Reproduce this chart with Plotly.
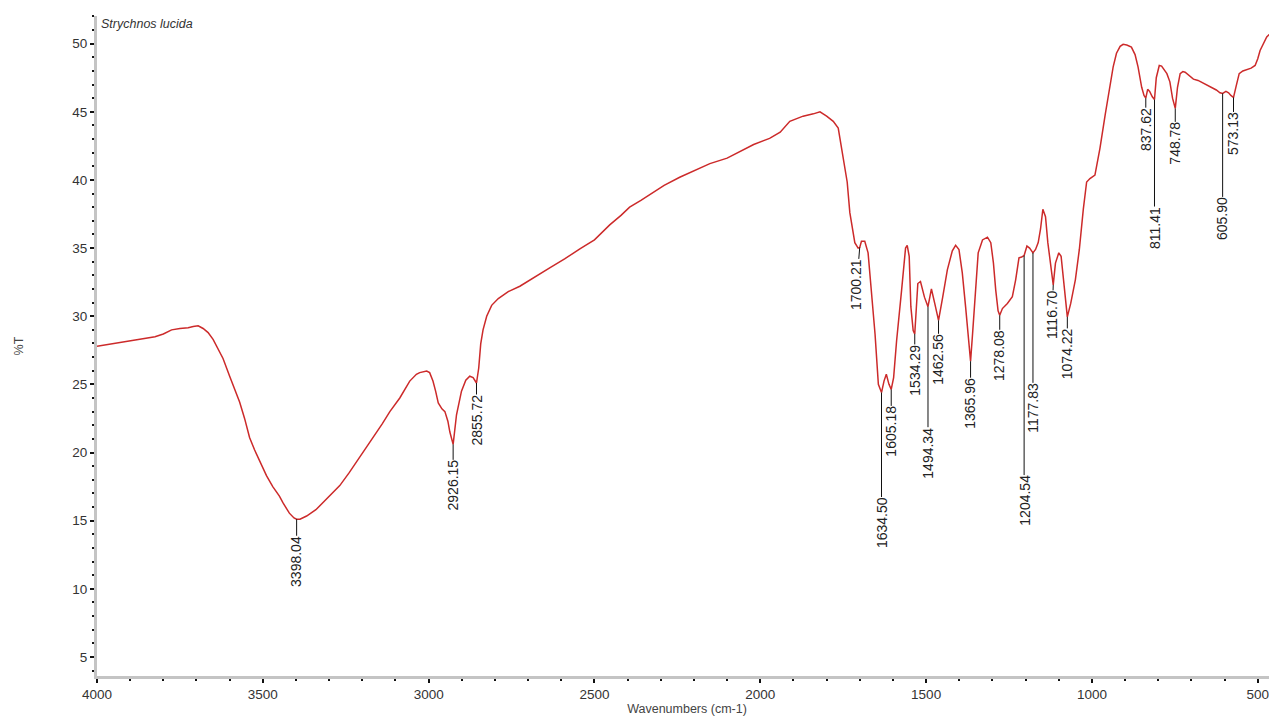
import numpy as np
import plotly.graph_objects as go

# ---- spectrum data ----
wavenumber = [
    4000, 3975, 3950, 3925, 3900, 3875, 3850, 3825, 3800, 3775, 3750, 3725, 3710, 3695,
    3680, 3665, 3650, 3635, 3620, 3600, 3585, 3570, 3555, 3540, 3525, 3510, 3489, 3470,
    3450, 3439, 3420, 3406, 3398.04, 3388, 3368, 3340, 3318, 3290, 3268, 3240, 3218, 3190,
    3168, 3140, 3117, 3087, 3057, 3037, 3027, 3015, 3006, 2997, 2987, 2979, 2971, 2960,
    2951, 2942, 2936, 2926.15, 2916, 2901, 2888, 2876, 2866, 2855.72, 2849, 2843, 2836,
    2825, 2810, 2790, 2760, 2725, 2680, 2635, 2590, 2544, 2500, 2454, 2420, 2394, 2360,
    2333, 2290, 2243, 2200, 2152, 2100, 2062, 2020, 1972, 1940, 1911, 1871, 1840, 1820,
    1800, 1780, 1765, 1760, 1755, 1745, 1738, 1730, 1721, 1715, 1705, 1700.21, 1695, 1685,
    1675, 1665, 1654, 1644, 1634.50, 1627, 1620, 1612, 1605.18, 1598, 1589, 1574, 1562,
    1557, 1551, 1546, 1539, 1534.29, 1530, 1525, 1517, 1505, 1494.34, 1484, 1474, 1462.56,
    1450, 1436, 1421, 1411, 1401, 1391, 1381, 1372, 1365.96, 1360, 1352, 1343, 1330, 1315,
    1305, 1297, 1290, 1283, 1278.08, 1270, 1255, 1240, 1230, 1220, 1212, 1204.54, 1196,
    1188, 1177.83, 1170, 1162, 1155, 1148, 1140, 1133, 1124, 1116.70, 1110, 1100, 1093,
    1085, 1074.22, 1064, 1050, 1038, 1031, 1026, 1016, 1006, 991, 976, 960, 946, 936, 926,
    915, 906, 895, 881, 870, 861, 850, 843, 837.62, 832, 826, 818, 811.41, 806, 797, 790,
    783, 774, 765, 757, 748.78, 742, 734, 726, 719, 705, 694, 680, 665, 654, 640, 625, 614,
    605.90, 596, 588, 581, 573.13, 565, 556, 545, 533, 520, 508, 500, 493, 483, 473, 460, 443,
]
transmittance = [
    27.8, 27.9, 28.0, 28.1, 28.2, 28.3, 28.35, 28.5, 28.7, 29.0, 29.1, 29.15, 29.25, 29.3,
    29.1, 28.8, 28.3, 27.6, 26.9, 25.6, 24.7, 23.7, 22.5, 21.1, 20.2, 19.4, 18.3, 17.5,
    16.8, 16.3, 15.55, 15.2, 15.1, 15.1, 15.34, 15.8, 16.33, 17.0, 17.57, 18.5, 19.3, 20.3,
    21.04, 22.1, 23.0, 24.0, 25.24, 25.74, 25.86, 25.95, 25.98, 25.86, 25.24, 24.5, 23.64, 23.2,
    23.0, 22.3, 21.5, 20.6, 22.77, 24.5, 25.3, 25.6, 25.5, 25.1, 26.2, 27.97, 29.0,
    30.0, 30.8, 31.3, 31.8, 32.2, 32.9, 33.55, 34.2, 34.95, 35.6, 36.7, 37.4, 38.0, 38.5,
    38.9, 39.6, 40.2, 40.7, 41.2, 41.6, 42.1, 42.6, 43.05, 43.5, 44.3, 44.68, 44.85, 45.0,
    44.68, 44.3, 43.8, 43.1, 42.1, 40.84, 39.85, 37.6, 36.1, 35.4, 35.0, 35.05, 35.5, 35.5,
    34.65, 31.9, 28.7, 25.0, 24.4, 25.24, 25.74, 25.0, 24.63, 25.5, 28.2, 31.9, 35.0,
    35.2, 34.4, 30.7, 28.95, 28.7, 30.7, 32.4, 32.55, 31.4, 30.7, 32.0, 30.94, 29.7,
    31.4, 33.4, 34.8, 35.2, 34.9, 33.2, 30.7, 28.2, 26.7, 28.7, 31.9, 34.65, 35.6, 35.8,
    35.4, 33.9, 31.9, 30.4, 30.07, 30.56, 30.94, 31.43, 32.67, 34.28, 34.35, 34.45, 35.15,
    35.0, 34.65, 34.9, 35.4, 36.4, 37.85, 37.3, 35.4, 33.6, 32.3, 33.9, 34.65, 34.4,
    32.4, 29.95, 30.94, 32.67, 34.9, 36.9, 37.86, 39.85, 40.1, 40.35, 42.3, 44.8, 46.8, 48.3, 49.3,
    49.8, 49.95, 49.9, 49.75, 49.2, 48.3, 46.8, 46.2, 46.0, 46.65, 46.5, 46.1, 45.9, 47.5, 48.4, 48.35,
    48.1, 47.8, 47.2, 46.0, 45.25, 46.8, 47.8, 47.95, 47.9, 47.6, 47.4, 47.3, 47.1, 47.0, 46.8, 46.6, 46.4,
    46.35, 46.5, 46.4, 46.2, 46.05, 46.9, 47.8, 48.0, 48.1, 48.2, 48.4, 48.9, 49.5, 50.0, 50.5, 50.8, 51.04,
]

# peak positions that are labelled on the chart
peak_wavenumbers = [
    3398.04, 2926.15, 2855.72, 1700.21, 1634.50, 1605.18, 1534.29, 1494.34, 1462.56,
    1365.96, 1278.08, 1204.54, 1177.83, 1116.70, 1074.22, 837.62, 811.41, 748.78,
    605.90, 573.13,
]

# ---- label leader offsets (pixels: dx, dy) - layout only ----
label_offsets = [
    (0, 42), (0, 41), (0, 37), (-3, 37), (0, 130), (0, 42), (0, 36), (0, 146), (0, 39),
    (0, 42), (0, 40), (0, 245), (0, 155), (-1, 30), (0, 37), (0, 31), (0, 128), (0, 35),
    (0, 125), (0, 36),
]

FONT = "Arial, Liberation Sans, sans-serif"
LINE_RED = "#cc2a2a"

fig = go.Figure()
fig.add_trace(go.Scatter(
    x=wavenumber, y=transmittance, mode="lines",
    line=dict(color=LINE_RED, width=1.5), hoverinfo="x+y",
))

wn_inc = np.array(wavenumber[::-1], dtype=float)
t_inc = np.array(transmittance[::-1], dtype=float)

annotations = []
for wn, (dx, dy) in zip(peak_wavenumbers, label_offsets):
    t_at = float(np.interp(wn, wn_inc, t_inc))
    annotations.append(dict(
        x=wn, y=t_at, xref="x", yref="y",
        text=f"{wn:.2f}", textangle=-90,
        showarrow=True, arrowhead=0, arrowwidth=1, arrowcolor="#111",
        ax=dx, ay=dy, axref="pixel", ayref="pixel", standoff=0,
        borderpad=0, borderwidth=0,
        font=dict(family=FONT, size=14, color="#222"),
    ))

annotations.append(dict(
    x=0, y=1, xref="paper", yref="paper", xanchor="left", yanchor="top",
    xshift=2, yshift=1, showarrow=False,
    text="<i>Strychnos lucida</i>",
    font=dict(family=FONT, size=12.5, color="#333"),
))

axis_common = dict(
    showgrid=False, zeroline=False, showline=True, linecolor="#c4c4c4", linewidth=3,
    ticks="outside", ticklen=4, tickwidth=1.5, tickcolor="#111",
    tickfont=dict(family=FONT, size=13.5, color="#333"),
    automargin=False,
)

# the page body has an 8px default margin, so the figure is sized/offset to compensate
fig.update_layout(
    width=1269, height=708,
    margin=dict(l=89, r=0, t=8, b=40),
    plot_bgcolor="white", paper_bgcolor="white",
    showlegend=False,
    annotations=annotations,
    xaxis=dict(
        range=[4000, 442], tick0=0, dtick=500,
        minor=dict(dtick=100, ticks="outside", ticklen=2, tickwidth=1.5, tickcolor="#111"),
        title=dict(text="Wavenumbers (cm-1)", standoff=8,
                   font=dict(family=FONT, size=12.5, color="#444")),
        **axis_common,
    ),
    yaxis=dict(
        range=[3.6, 52.03], tick0=0, dtick=5,
        minor=dict(dtick=1, ticks="outside", ticklen=2, tickwidth=1.5, tickcolor="#111"),
        title=dict(text="%T", standoff=46,
                   font=dict(family=FONT, size=12.5, color="#444")),
        **axis_common,
    ),
)

fig.write_html("out.html")
